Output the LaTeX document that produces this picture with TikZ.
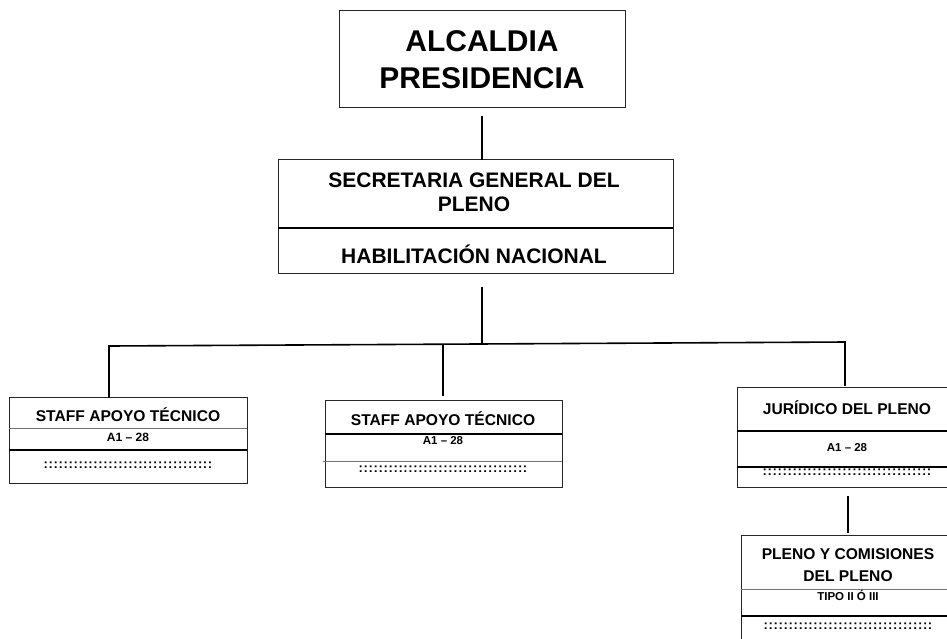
\documentclass[tikz,border=0pt]{standalone}
\usepackage{fontspec}
\setmainfont{Liberation Sans}
\usetikzlibrary{calc}
\begin{document}
\begin{tikzpicture}[x=1pt,y=-1pt,
  box/.style={draw=black!85,line width=1pt,anchor=north west,inner sep=0pt,outer sep=0pt},
  conn/.style={draw=black,line width=1.6pt,line cap=rect},
  sepdark/.style={draw=black,line width=1.2pt},
  seplight/.style={draw=black!55,line width=1pt},
  lbl/.style={inner sep=0pt,align=center},
  bigfont/.style={font=\fontsize{30}{37}\selectfont\bfseries},
  secfont/.style={font=\fontsize{21}{24}\selectfont\bfseries},
  ttlfont/.style={font=\fontsize{15.6}{22}\selectfont\bfseries},
  smlfont/.style={font=\fontsize{11.5}{14}\selectfont\bfseries},
  dotrow/.style={inner sep=0pt,font=\fontsize{13}{13}\selectfont\bfseries\addfontfeatures{LetterSpace=5}}
]
\useasboundingbox (0,0) rectangle (947,638);
\clip (0,0) rectangle (947,638);
\fill[white] (0,0) rectangle (947,638);

% top box
\node[box,minimum width=286pt,minimum height=97pt] (alc) at (339,10) {};
\node[lbl,bigfont] (alct) at (482,60) {ALCALDIA\\PRESIDENCIA};

% secretaria
\node[box,minimum width=395pt,minimum height=114pt] (sec) at (278,159) {};
\draw[sepdark] (278,228) -- (673,228);
\node[lbl,secfont] (sect) at (474,192) {SECRETARIA GENERAL DEL\\PLENO};
\node[lbl,secfont,anchor=base] (habt) at (474,263) {HABILITACIÓN NACIONAL};

% left staff
\node[box,minimum width=238pt,minimum height=86pt] (s1) at (9,397) {};
\draw[seplight] (9,428) -- (247,428);
\draw[sepdark] (9,450) -- (247,450);
\node[lbl,ttlfont,anchor=base] (s1t) at (128,421) {STAFF APOYO TÉCNICO};
\node[lbl,font=\fontsize{12}{14}\selectfont\bfseries,anchor=base] (s1a) at (128,441) {A1 – 28};
\node[dotrow] (s1d) at (128,465) {::::::::::::::::::::::::::::::::::};

% middle staff
\node[box,minimum width=237pt,minimum height=87pt] (s2) at (325,400) {};
\draw[sepdark] (325,434) -- (562,434);
\draw[seplight] (323,461) -- (562,461);
\node[lbl,ttlfont,anchor=base] (s2t) at (443,425) {STAFF APOYO TÉCNICO};
\node[lbl,smlfont,anchor=base] (s2a) at (443,444) {A1 – 28};
\node[dotrow] (s2d) at (443,469) {::::::::::::::::::::::::::::::::::};

% juridico
\node[box,minimum width=222pt,minimum height=100pt] (jur) at (737,387) {};
\draw[sepdark] (737,431) -- (960,431);
\draw[sepdark] (737,467) -- (960,467);
\node[lbl,ttlfont,anchor=base] (jurt) at (847,414) {JURÍDICO DEL PLENO};
\node[lbl,smlfont,anchor=base] (jura) at (847,451) {A1 – 28};
\node[dotrow] (jurd) at (847,472) {::::::::::::::::::::::::::::::::::};

% pleno y comisiones
\node[box,minimum width=222pt,minimum height=130pt] (pc) at (741,535) {};
\draw[seplight] (741,589) -- (960,589);
\draw[sepdark] (741,616) -- (960,616);
\node[lbl,ttlfont] (pct) at (848,565.5) {PLENO Y COMISIONES\\DEL PLENO};
\node[lbl,smlfont,anchor=base] (pca) at (848,600) {TIPO II Ó III};
\node[dotrow] (pcd) at (848,626) {::::::::::::::::::::::::::::::::::};

% connectors
\coordinate (busL) at (109,346);
\coordinate (busM) at (443,345);
\coordinate (busC) at (482,344.5);
\coordinate (busR) at (845,342);
\draw[conn,shorten <=10pt] (alc.south) -- (alc.south |- sec.north);
\draw[conn,shorten <=15pt] (sec.south -| busC) -- (busC);
\draw[conn] (busL) -- (busR);
\draw[conn] (busL) -- (busL |- s1.north);
\draw[conn,shorten >=5pt] (busM) -- (busM |- s2.north);
\draw[conn,shorten >=2pt] (busR) -- (busR |- jur.north);
\draw[conn,shorten <=10pt,shorten >=3pt] (jur.south) -- (jur.south |- pc.north);
\end{tikzpicture}
\end{document}
